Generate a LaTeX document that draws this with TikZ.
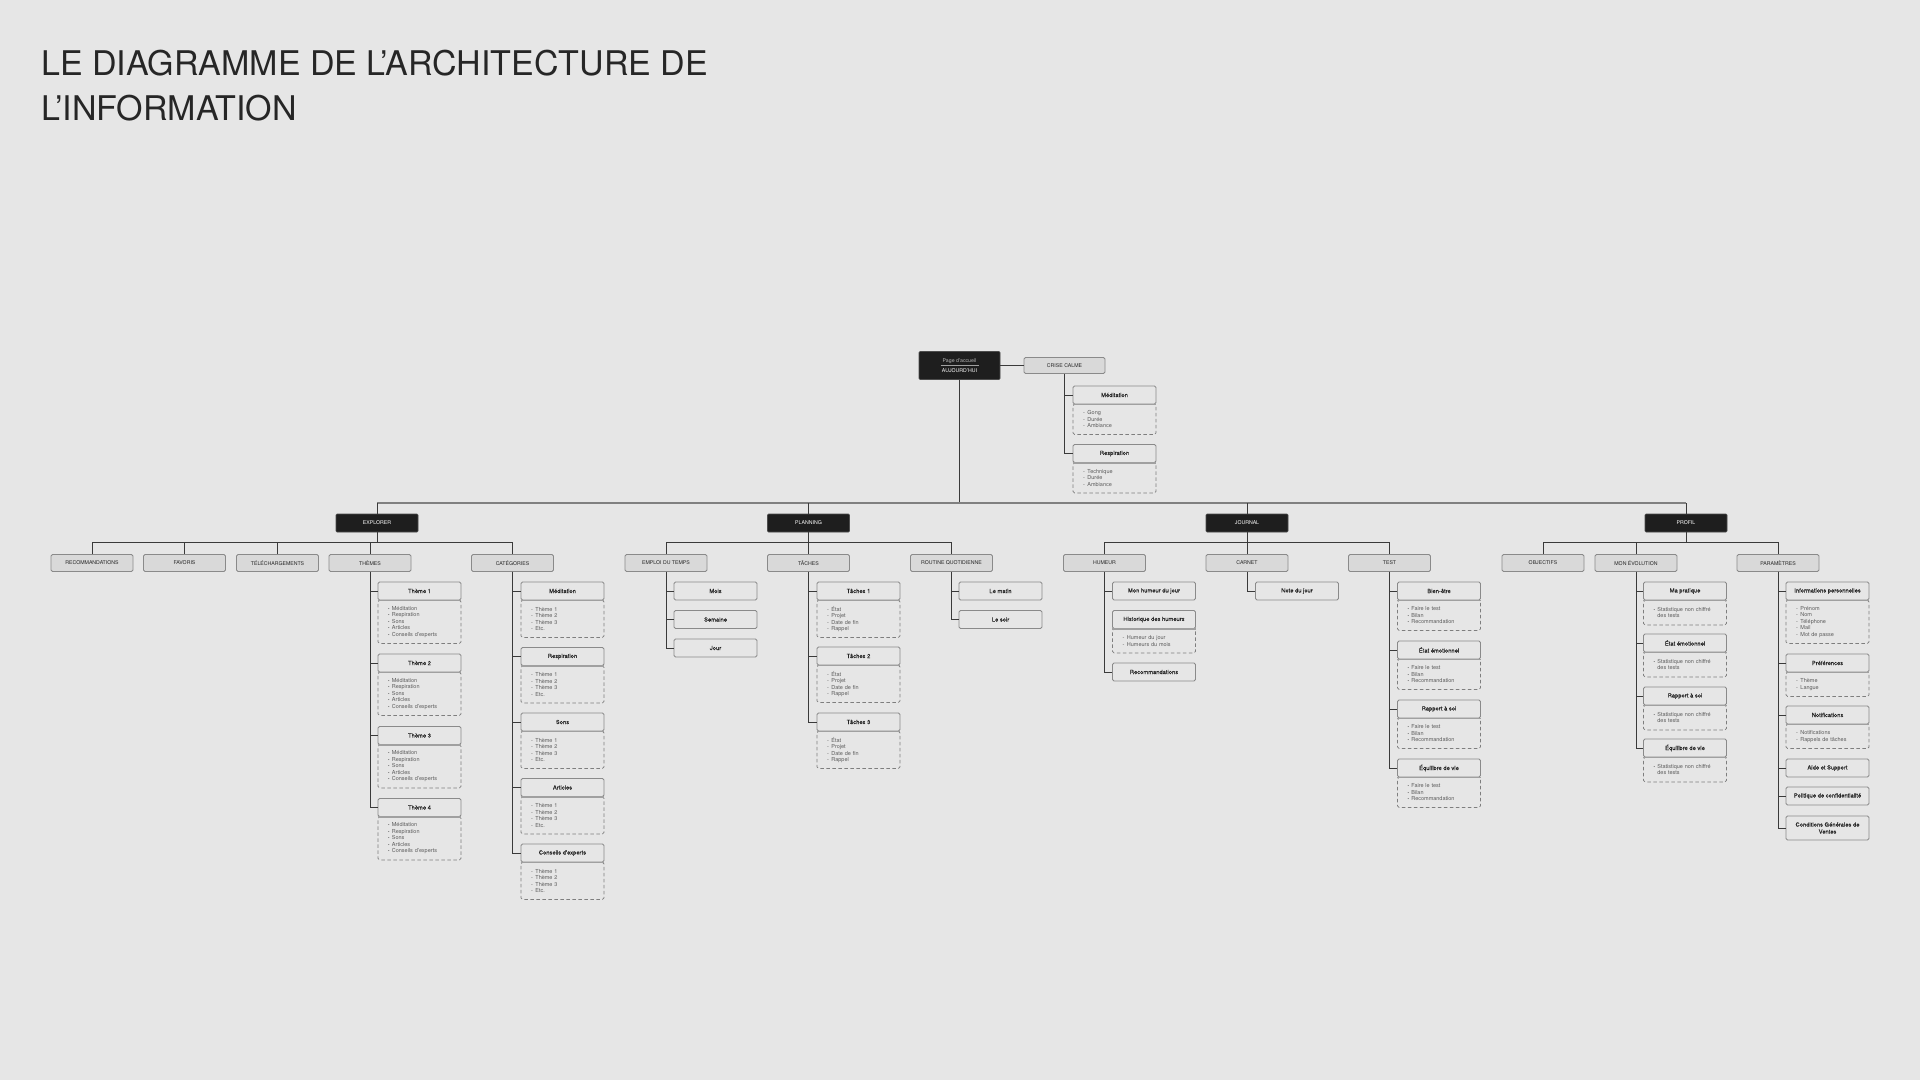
\documentclass[tikz,border=0pt]{standalone}
\usepackage{fontspec}
\setmainfont{TeX Gyre Heros}
\newfontfamily\medfont[FakeBold=0.12]{TeX Gyre Heros}
\usetikzlibrary{calc}
\definecolor{bgc}{HTML}{E6E6E6}
\definecolor{catfill}{HTML}{D9D9D9}
\definecolor{blackc}{HTML}{1E1E1E}
\definecolor{cardedge}{HTML}{8A8A8A}
\definecolor{dashc}{HTML}{7E7E7E}
\definecolor{linec}{HTML}{3A3A3A}
\definecolor{busc}{HTML}{808080}
\definecolor{textc}{HTML}{262626}
\definecolor{itemc}{HTML}{5A5A5A}
\definecolor{homesub}{HTML}{BDBDBD}
\definecolor{sepc}{HTML}{A0A0A0}
\newcommand{\mybul}{\raisebox{0.3pt}{\fontsize{4.2}{4}\selectfont •}\hspace{2.4pt}}
\newcommand{\mydash}{-\hspace{2.6pt}}
\newcommand{\mkcard}[6]{%
  \node[cardbody, minimum height=#5pt] (#1b) at (#2,#3+9) {#6};
  \node[hdr] (#1) at (#2,#3) {#4};
  \draw[hdrsep] (#1.south west) -- (#1.south east);
}
\tikzset{
  conn/.style={draw=linec, line width=0.9pt},
  busline/.style={draw=busc, line width=2.2pt},
  blackbox/.style={draw=black!70, fill=blackc, text=white, minimum width=82pt, minimum height=18pt,
    inner sep=0pt, font=\fontsize{5.2}{6}\selectfont, rounded corners=1pt, line width=0.6pt},
  catbox/.style={draw=cardedge, fill=catfill, text=textc, minimum width=82pt, minimum height=17pt,
    inner sep=0pt, font=\fontsize{5.2}{6}\selectfont, rounded corners=1.5pt, line width=0.8pt},
  hdr/.style={draw=cardedge, fill=bgc, text=textc, minimum width=83pt, minimum height=18pt,
    inner sep=0pt, font=\medfont\fontsize{5.8}{7}\selectfont, rounded corners=1.5pt, line width=0.8pt, align=center},
  hdrsep/.style={draw=sepc, line width=1.4pt},
  cardbody/.style={draw=dashc, dash pattern=on 3.5pt off 2.5pt, line width=0.8pt, rounded corners=1.5pt,
    text width=63pt, inner xsep=10pt, inner ysep=0pt, align=left, anchor=north,
    font=\fontsize{5.5}{6.5}\selectfont, text=itemc},
  titlestyle/.style={anchor=base west, inner sep=0pt, text=textc, font=\fontsize{34}{40}\selectfont},
  homesep/.style={draw=sepc, line width=0.8pt},
}
\begin{document}
\begin{tikzpicture}[x=1pt,y=-1pt]
\useasboundingbox (0,0) rectangle (1920,1080);
\fill[bgc] (0,0) rectangle (1920,1080);

% title
\node[titlestyle] (title1) at (41,75) {LE DIAGRAMME DE L’ARCHITECTURE DE};
\node[titlestyle] (title2) at (41,120) {L’INFORMATION};

% home and crise calme
\node[blackbox, minimum width=81pt, minimum height=28pt, align=center] (home) at (959.5,365.5)
  {{\color{homesub}Page d’accueil}\\[4.4pt]AUJOURD’HUI};
\draw[homesep] ($(home.center)+(-19,0.3)$) -- ++(38,0);
\node[catbox, minimum width=81pt, minimum height=16pt] (crise) at (1064.5,365.5) {CRISE CALME};
\mkcard{cmed}{1114.5}{395}{Méditation}{30}{\mydash Gong\\\mydash Durée\\\mydash Ambiance}
\mkcard{cresp}{1114.5}{453.5}{Respiration}{30}{\mydash Technique\\\mydash Durée\\\mydash Ambiance}

% first level
\node[blackbox] (explorer) at (377,523) {EXPLORER};
\node[blackbox] (planning) at (808.5,523) {PLANNING};
\node[blackbox] (journal) at (1247,523) {JOURNAL};
\node[blackbox] (profil) at (1686,523) {PROFIL};

% second level
\node[catbox] (reco) at (92,563) {RECOMMANDATIONS};
\node[catbox] (fav) at (184.5,563) {FAVORIS};
\node[catbox] (tele) at (277.5,563) {TÉLÉCHARGEMENTS};
\node[catbox] (themes) at (370,563) {THÈMES};
\node[catbox] (cats) at (512.5,563) {CATÉGORIES};
\node[catbox] (emploi) at (666,563) {EMPLOI DU TEMPS};
\node[catbox] (taches) at (808.5,563) {TÂCHES};
\node[catbox] (routine) at (951.5,563) {ROUTINE QUOTIDIENNE};
\node[catbox] (humeur) at (1104.5,563) {HUMEUR};
\node[catbox] (carnet) at (1247,563) {CARNET};
\node[catbox] (test) at (1389.5,563) {TEST};
\node[catbox] (objectifs) at (1543,563) {OBJECTIFS};
\node[catbox] (evol) at (1636,563) {MON ÉVOLUTION};
\node[catbox] (param) at (1778,563) {PARAMÈTRES};

% themes
\mkcard{th1}{419.5}{591}{Thème 1}{43}{\mybul Méditation\\\mybul Respiration\\\mybul Sons\\\mybul Articles\\\mybul Conseils d'experts}
\mkcard{th2}{419.5}{663}{Thème 2}{43}{\mybul Méditation\\\mybul Respiration\\\mybul Sons\\\mybul Articles\\\mybul Conseils d'experts}
\mkcard{th3}{419.5}{735.5}{Thème 3}{43}{\mybul Méditation\\\mybul Respiration\\\mybul Sons\\\mybul Articles\\\mybul Conseils d'experts}
\mkcard{th4}{419.5}{807.5}{Thème 4}{43}{\mybul Méditation\\\mybul Respiration\\\mybul Sons\\\mybul Articles\\\mybul Conseils d'experts}

% categories
\mkcard{ca1}{562.5}{591}{Méditation}{37}{\mydash Thème 1\\\mydash Thème 2\\\mydash Thème 3\\\mydash Etc.}
\mkcard{ca2}{562.5}{656.5}{Respiration}{37}{\mydash Thème 1\\\mydash Thème 2\\\mydash Thème 3\\\mydash Etc.}
\mkcard{ca3}{562.5}{722}{Sons}{37}{\mydash Thème 1\\\mydash Thème 2\\\mydash Thème 3\\\mydash Etc.}
\mkcard{ca4}{562.5}{787.5}{Articles}{37}{\mydash Thème 1\\\mydash Thème 2\\\mydash Thème 3\\\mydash Etc.}
\mkcard{ca5}{562.5}{853}{Conseils d'experts}{37}{\mydash Thème 1\\\mydash Thème 2\\\mydash Thème 3\\\mydash Etc.}

% planning
\node[hdr] (mois) at (715.5,591) {Mois};
\node[hdr] (semaine) at (715.5,619.5) {Semaine};
\node[hdr] (jour) at (715.5,648) {Jour};
\mkcard{ta1}{858.5}{591}{Tâches 1}{37}{\mydash État\\\mydash Projet\\\mydash Date de fin\\\mydash Rappel}
\mkcard{ta2}{858.5}{656}{Tâches 2}{37}{\mydash État\\\mydash Projet\\\mydash Date de fin\\\mydash Rappel}
\mkcard{ta3}{858.5}{722}{Tâches 3}{37}{\mydash État\\\mydash Projet\\\mydash Date de fin\\\mydash Rappel}
\node[hdr] (matin) at (1000.5,591) {Le matin};
\node[hdr] (soir) at (1000.5,619.5) {Le soir};

% journal
\node[hdr] (hjour) at (1154,591) {Mon humeur du jour};
\mkcard{hist}{1154}{619.5}{Historique des humeurs}{24}{\mydash Humeur du jour\\\mydash Humeurs du mois}
\node[hdr] (hreco) at (1154,672) {Recommandations};
\node[hdr] (note) at (1297,591) {Note du jour};
\mkcard{te1}{1439}{591}{Bien-être}{30}{\mybul Faire le test\\\mybul Bilan\\\mybul Recommandation}
\mkcard{te2}{1439}{650}{État émotionnel}{30}{\mybul Faire le test\\\mybul Bilan\\\mybul Recommandation}
\mkcard{te3}{1439}{709}{Rapport à soi}{30}{\mybul Faire le test\\\mybul Bilan\\\mybul Recommandation}
\mkcard{te4}{1439}{768}{Équilibre de vie}{30}{\mybul Faire le test\\\mybul Bilan\\\mybul Recommandation}

% profil
\mkcard{ev1}{1685}{591}{Ma pratique}{24.5}{\mybul Statistique non chiffré\\\phantom{\mybul}des tests}
\mkcard{ev2}{1685}{643}{État émotionnel}{24.5}{\mybul Statistique non chiffré\\\phantom{\mybul}des tests}
\mkcard{ev3}{1685}{696}{Rapport à soi}{24.5}{\mybul Statistique non chiffré\\\phantom{\mybul}des tests}
\mkcard{ev4}{1685}{748}{Équilibre de vie}{24.5}{\mybul Statistique non chiffré\\\phantom{\mybul}des tests}
\mkcard{pa1}{1827.5}{591}{Informations personnelles}{43}{\mydash Prénom\\\mydash Nom\\\mydash Téléphone\\\mydash Mail\\\mydash Mot de passe}
\mkcard{pa2}{1827.5}{663}{Préférences}{24}{\mydash Thème\\\mydash Langue}
\mkcard{pa3}{1827.5}{715}{Notifications}{24}{\mydash Notifications\\\mydash Rappels de tâches}
\node[hdr] (pa4) at (1827.5,768) {Aide et Support};
\node[hdr] (pa5) at (1827.5,796) {Politique de confidentialité};
\node[hdr, minimum height=24pt] (pa6) at (1827.5,828) {Conditions Générales de\\Ventes};

% connectors
\draw[conn] (home.east) -- (crise.west);
\foreach \c in {cmed,cresp} \draw[conn] (crise.south) |- (\c.west);

\coordinate (mainbus) at (959.5,503);
\draw[conn] (home.south) -- (mainbus);
\draw[busline] (explorer.north |- mainbus) -- (profil.north |- mainbus);
\foreach \n in {explorer,planning,journal,profil} \draw[conn] (\n.north |- mainbus) -- (\n.north);

\draw[conn] (explorer.south) -- ++(0,10) coordinate (ebus);
\foreach \c in {reco,fav,tele,themes,cats} \draw[conn] (ebus) -| (\c.north);
\draw[conn] (planning.south) -- ++(0,10) coordinate (pbus);
\foreach \c in {emploi,taches,routine} \draw[conn] (pbus) -| (\c.north);
\draw[conn] (journal.south) -- ++(0,10) coordinate (jbus);
\foreach \c in {humeur,carnet,test} \draw[conn] (jbus) -| (\c.north);
\draw[conn] (profil.south) -- ++(0,10) coordinate (rbus);
\foreach \c in {objectifs,evol,param} \draw[conn] (rbus) -| (\c.north);

\foreach \c in {th1,th2,th3,th4} \draw[conn] (themes.south) |- (\c.west);
\foreach \c in {ca1,ca2,ca3,ca4,ca5} \draw[conn] (cats.south) |- (\c.west);
\foreach \c in {mois,semaine,jour} \draw[conn] (emploi.south) |- (\c.west);
\foreach \c in {ta1,ta2,ta3} \draw[conn] (taches.south) |- (\c.west);
\foreach \c in {matin,soir} \draw[conn] (routine.south) |- (\c.west);
\foreach \c in {hjour,hreco} \draw[conn] (humeur.south) |- (\c.west);
\draw[conn] (carnet.south) |- (note.west);
\foreach \c in {te1,te2,te3,te4} \draw[conn] (test.south) |- (\c.west);
\foreach \c in {ev1,ev2,ev3,ev4} \draw[conn] (evol.south) |- (\c.west);
\foreach \c in {pa1,pa2,pa3,pa4,pa5,pa6} \draw[conn] (param.south) |- (\c.west);
\end{tikzpicture}
\end{document}
